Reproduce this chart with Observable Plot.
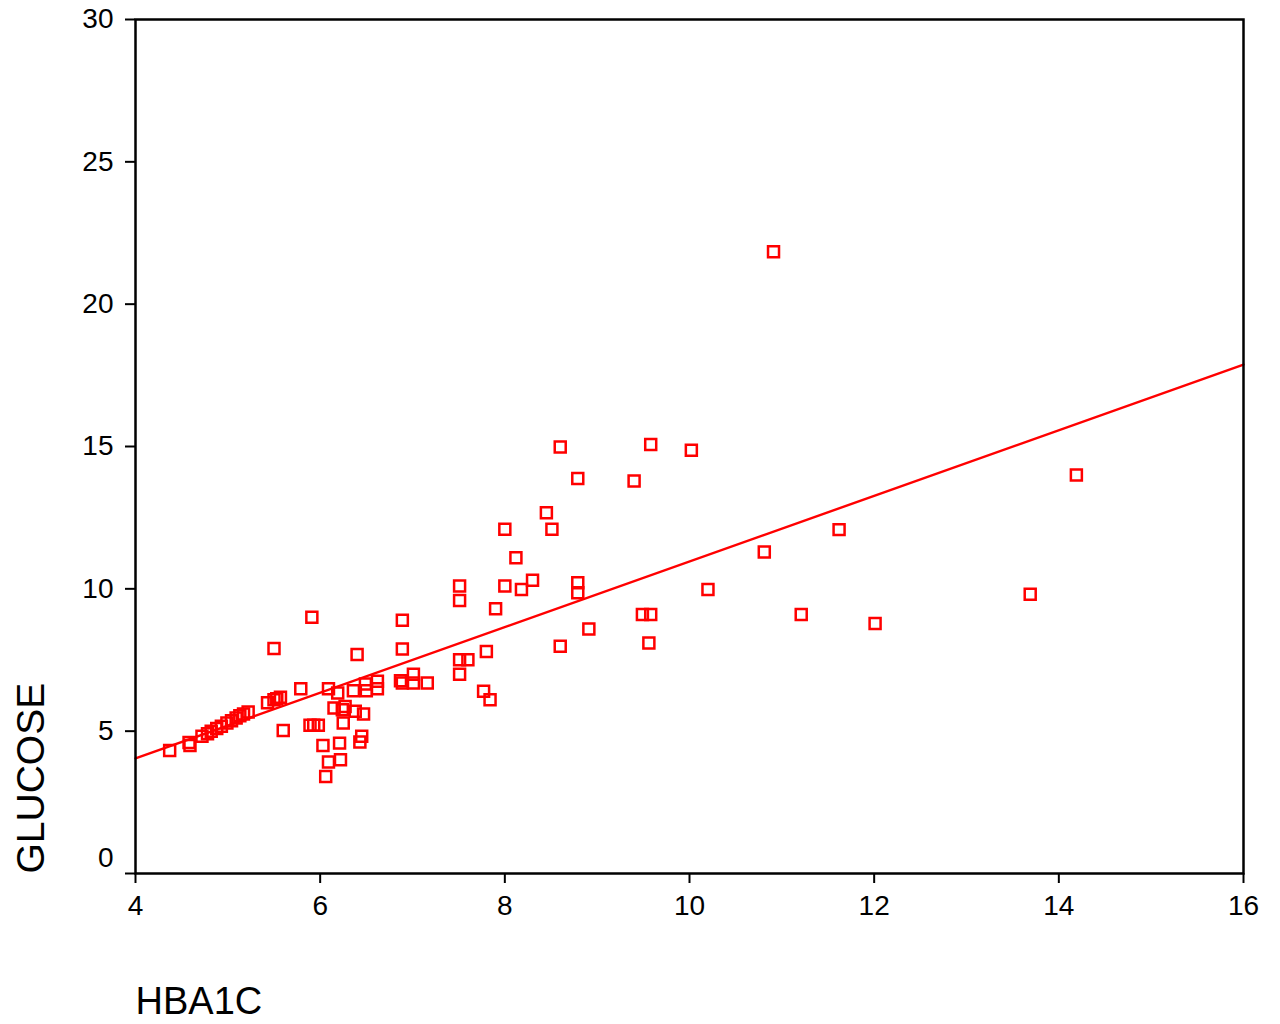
<!DOCTYPE html>
<html>
<head>
<meta charset="utf-8">
<script src="https://cdn.jsdelivr.net/npm/d3@7"></script>
<script src="https://cdn.jsdelivr.net/npm/@observablehq/plot@0.6"></script>
<style>
  html, body { margin: 0; padding: 0; background: #fff; }
  svg { font-family: "Liberation Sans", Arial, sans-serif; }
</style>
</head>
<body>
<div id="chart"></div>
<script>
const hba1c = [4.37,4.58,4.59,4.72,4.78,4.82,4.88,4.93,4.99,5.04,5.09,5.13,5.17,5.22,5.43,5.5,5.53,5.57,5.5,5.79,5.6,5.89,5.93,5.98,5.91,6.89,6.89,6.4,6.09,6.19,6.36,6.49,6.62,6.62,6.5,6.87,6.89,7.01,7.01,7.16,6.15,6.27,6.24,6.38,6.47,6.25,6.03,6.21,6.45,6.43,6.09,6.22,6.06,7.51,7.51,8.0,8.18,8.3,7.9,8.6,7.8,7.51,7.6,7.51,7.77,7.84,8.6,9.58,8.79,9.4,8.45,8.51,8.0,8.12,8.79,8.79,9.49,9.58,8.91,9.56,10.02,11.62,10.81,10.2,11.21,12.01,10.91,13.69,14.19];
const glucose = [4.32,4.6,4.5,4.82,4.91,5.0,5.09,5.17,5.29,5.37,5.46,5.54,5.6,5.67,6.0,6.1,6.14,6.19,7.9,6.49,5.02,5.21,5.21,5.21,9.0,8.9,7.89,7.69,6.49,6.34,6.42,6.66,6.75,6.49,6.42,6.77,6.69,7.0,6.69,6.69,5.81,5.87,5.75,5.7,5.6,5.29,4.5,4.58,4.82,4.62,3.92,4.0,3.41,10.1,9.59,10.1,9.98,10.3,9.3,7.98,7.8,7.51,7.51,7.0,6.4,6.1,14.98,15.07,13.88,13.79,12.67,12.09,12.09,11.09,10.21,9.86,9.1,9.1,8.59,8.1,14.87,12.08,11.29,9.98,9.1,8.78,21.84,9.81,14.0];
const xTicks = [4,6,8,10,12,14,16];
const yTicks = [0,5,10,15,20,25,30];
const fitIntercept = -0.57;
const fitSlope = 1.153;
const xLabel = "HBA1C";
const yLabel = "GLUCOSE";

const points = hba1c.map((x, i) => ({x, y: glucose[i]}));
const xDomain = [4, 16];
const fit = xDomain.map(x => ({x, y: fitIntercept + fitSlope * x}));
const red = "#ff0000";
const fs = 28;

const chart = Plot.plot({
  width: 1280,
  height: 1024,
  marginLeft: 135,
  marginRight: 37,
  marginTop: 19,
  marginBottom: 151,
  style: {fontFamily: "'Liberation Sans', Arial, sans-serif", background: "white"},
  x: {domain: xDomain, ticks: xTicks, label: null},
  y: {domain: [0, 30], ticks: yTicks, label: null},
  marks: [
    Plot.axisX({ticks: xTicks, tickSize: 10, tickPadding: 12, fontSize: fs, stroke: "black", strokeWidth: 2, color: "black", label: null}),
    Plot.axisY({ticks: yTicks, tickSize: 10, tickPadding: 12, fontSize: fs, stroke: "black", strokeWidth: 2, color: "black", label: null,
      tickFormat: d => d === 0 ? "" : d}),
    Plot.axisY({ticks: yTicks.filter(d => d === 0), tickSize: 10, tickPadding: 12, dy: -15, fontSize: fs, stroke: "none", color: "black", label: null}),
    Plot.line(fit, {x: "x", y: "y", stroke: red, strokeWidth: 2.4}),
    Plot.dot(points, {x: "x", y: "y", symbol: "square", r: 6.2, stroke: red, strokeWidth: 2.5, fill: "none"}),
    Plot.frame({stroke: "black", strokeWidth: 2.5}),
    Plot.text([yLabel], {text: d => d, frameAnchor: "bottom-left", dx: -92, dy: 0, rotate: -90, textAnchor: "start", fontSize: 39, fill: "black"}),
    Plot.text([xLabel], {text: d => d, frameAnchor: "bottom-left", dx: 0, dy: 140, textAnchor: "start", fontSize: 38, fill: "black"})
  ]
});
document.getElementById("chart").appendChild(chart);
</script>
</body>
</html>
